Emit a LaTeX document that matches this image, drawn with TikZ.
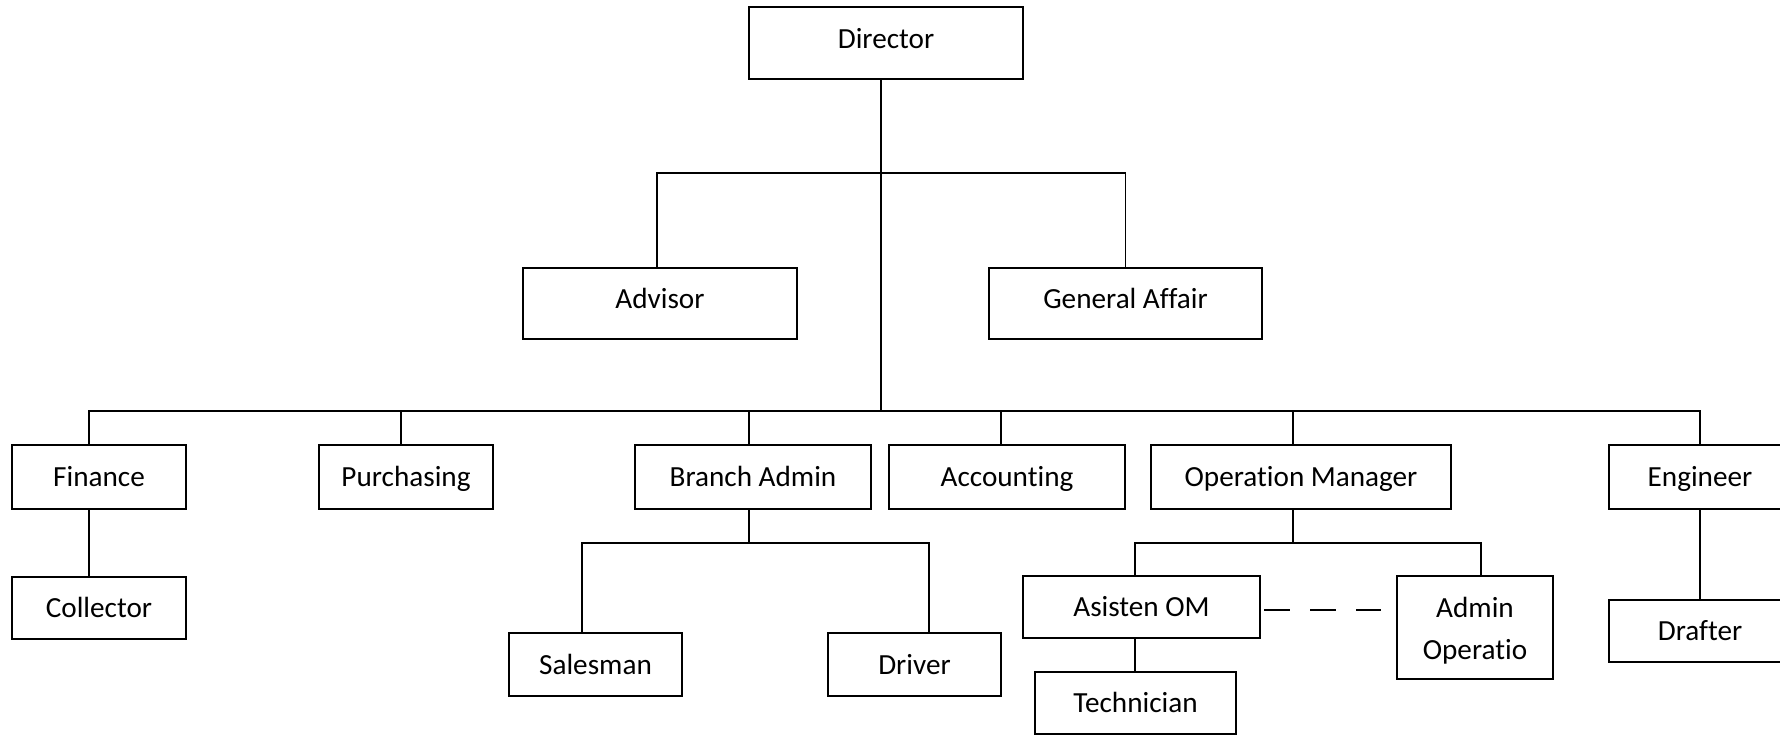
\documentclass[tikz,border=0pt]{standalone}
\usepackage{fontspec}
\setmainfont{Carlito}[Ligatures=CommonOff]
\usepackage{tikz}
\usetikzlibrary{positioning,calc}

\begin{document}
\begin{tikzpicture}[
  x=0.5pt,y=-0.5pt,
  unit/.style={draw,line width=1pt,inner sep=0pt,align=center,minimum height=32pt,
    text height=11pt,text depth=1.5pt,font=\fontsize{14.6}{21}\selectfont},
  head/.style={unit,text height=9pt,text depth=4pt,minimum height=35.5pt},
  link/.style={line width=0.9pt}
]
\useasboundingbox (0,0) rectangle (1780,734);
\clip (0,0) rectangle (1780,734);
\node[head,minimum width=137pt,minimum height=36pt] (dir) at (886,43) {Director};
\node[head,minimum width=137pt] (adv) at (660,303.5) {Advisor};
\node[head,minimum width=136.5pt] (gen) at (1125.5,303.5) {General Affair};
\node[unit,minimum width=87pt] (fin) at (99,477) {Finance};
\node[unit,minimum width=87pt] (pur) at (406,477) {Purchasing};
\node[unit,minimum width=118pt] (bra) at (753,477) {Branch Admin};
\node[unit,minimum width=118pt] (acc) at (1007,477) {Accounting};
\node[unit,minimum width=150pt] (opm) at (1301,477) {Operation Manager};
\node[unit,minimum width=91pt] (eng) at (1700,477) {Engineer};
\node[unit,minimum width=87pt,minimum height=31pt] (col) at (99,608) {Collector};
\node[unit,minimum width=86.5pt,minimum height=31.5pt] (sal) at (595.5,664.5) {Salesman};
\node[unit,minimum width=86.5pt,minimum height=31.5pt] (drv) at (914.5,664.5) {Driver};
\node[unit,minimum width=118.5pt,minimum height=31pt] (asi) at (1141.5,607) {Asisten OM};
\node[unit,text height=,text depth=,minimum width=78pt,minimum height=51.5pt] (adm) at (1475,627.5) {\rule{0pt}{13pt}Admin\\Operatio};
\node[unit,minimum width=100.5pt,minimum height=31pt] (tec) at (1135.5,703) {Technician};
\node[unit,minimum width=91pt,minimum height=31pt] (dra) at (1700,631) {Drafter};

\coordinate (topbar) at (881,173);
\coordinate (mainbar) at (881,411);
\coordinate (brabar) at (749,543);
\coordinate (opmbar) at (1293,543);

\draw[link] ([xshift=-2.5pt]dir.south) -- (mainbar);
\draw[link] ([xshift=-1.5pt]adv.north) |- (topbar) -| (gen.north);
\draw[link] ([xshift=-5pt]fin.north) |- (mainbar) -| (eng.north);
\foreach \n/\s in {pur/-2.5,bra/-2,acc/-3,opm/-4}
  \draw[link] ([xshift=\s pt]\n.north) -- ([xshift=\s pt]\n.north |- mainbar);
\draw[link] ([xshift=-5pt]fin.south) -- ([xshift=-5pt]col.north);
\draw[link] ([xshift=-2pt]bra.south) -- (brabar);
\draw[link] ([xshift=-6.75pt]sal.north) |- (brabar) -| ([xshift=7.25pt]drv.north);
\draw[link] ([xshift=-4pt]opm.south) -- (opmbar);
\draw[link] ([xshift=-3.25pt]asi.north) |- (opmbar) -| ([xshift=3pt]adm.north);
\draw[link] ([xshift=-3.25pt]asi.south) -- ([xshift=-3.25pt]asi.south |- tec.north);
\draw[link] (eng.south) -- (dra.north);
\draw[link,dash pattern=on 13pt off 10pt]
  ([xshift=1.5pt,yshift=-1.5pt]asi.east) -- ([xshift=-7.5pt,yshift=-1.5pt]asi.east -| adm.west);
\end{tikzpicture}
\end{document}
